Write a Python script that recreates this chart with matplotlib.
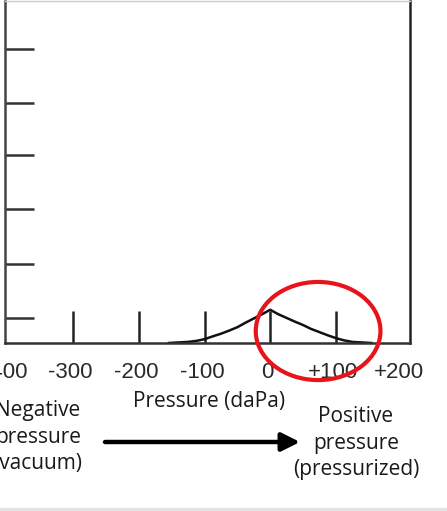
import matplotlib
matplotlib.use("Agg")
import matplotlib.pyplot as plt
from matplotlib.patches import Ellipse, Rectangle

# tympanogram trace (pressure in daPa, compliance in arbitrary units)
pressure = [-155, -140, -125, -112, -100, -88, -75, -62, -50, -38, -25, -12, 0,
            12, 25, 38, 50, 62, 75, 88, 100, 112, 125, 140, 155]
compliance = [0.0, 0.01, 0.02, 0.04, 0.07, 0.12, 0.17, 0.23, 0.29, 0.37, 0.45, 0.53, 0.61,
              0.53, 0.46, 0.39, 0.33, 0.26, 0.20, 0.14, 0.09, 0.05, 0.02, 0.01, 0.0]

label_pos = [-400, -300, -200, -100, 0, 100, 200]
label_txt = ["-400", "-300", "-200", "-100", "0", "+100", "+200"]
xtick_marks = [-300, -200, -100, 0, 100]
ytick_marks = [0.46, 1.45, 2.46, 3.45, 4.4, 5.4]

W, H = 447, 511
fig = plt.figure(figsize=(W / 100, H / 100), dpi=100)
ax = fig.add_axes([5 / W, 1 - 343 / H, 405 / W, 342 / H])

ax.plot(pressure, compliance, color="#111111", lw=1.8, solid_capstyle="round")
ax.set_xlim(-390, 213)
ax.set_ylim(0, 342 / 54.5)

ax.xaxis.remove_overlapping_locs = False
ax.set_xticks([p - 4 for p in label_pos])
ax.set_xticklabels(label_txt, family="Liberation Sans", fontsize=16, color="#2a2a2a")
ax.tick_params(axis="x", which="major", length=0, pad=14)
ax.set_xticks(xtick_marks, minor=True)
ax.tick_params(axis="x", which="minor", direction="in", length=23, width=1.8, color="#222222")
ax.set_yticks(ytick_marks)
ax.set_yticklabels([])
ax.tick_params(axis="y", direction="in", length=21, width=1.8, color="#333333")

for s in ["left", "bottom", "right"]:
    ax.spines[s].set_linewidth(1.8)
ax.spines["left"].set_color("#444444")
ax.spines["bottom"].set_color("#333333")
ax.spines["right"].set_color("#222222")
ax.spines["top"].set_color("#cccccc")
ax.spines["top"].set_linewidth(1)

# red highlight around the positive side
ax.add_patch(Ellipse((73, 0.22), 190, 1.8, fill=False, edgecolor="#e8141b",
                     lw=3, clip_on=False, zorder=5))

fig.text(209 / W, 1 - 402 / H, "Pressure (daPa)", family="Open Sans",
         fontsize=15, color="#1a1a1a", ha="center", va="center")
fig.text(38 / W, 1 - 437 / H, "Negative\npressure\n(vacuum)", family="Open Sans",
         fontsize=15, color="#1a1a1a", ha="center", va="center", linespacing=1.35)
fig.text(356 / W, 1 - 443 / H, "Positive\npressure\n(pressurized)", family="Open Sans",
         fontsize=15, color="#1a1a1a", ha="center", va="center", linespacing=1.35)

fig.patches.append(Rectangle((0, 0), 1, 3 / H, transform=fig.transFigure,
                             color="#e4e4e4", zorder=0))

ax.annotate("", xy=(300, H - 442), xytext=(105, H - 442),
            xycoords="figure pixels", textcoords="figure pixels",
            arrowprops=dict(arrowstyle="-|>,head_length=1.1,head_width=0.55",
                            color="black", lw=3.2, shrinkA=0, shrinkB=0))

fig.savefig("out.png", dpi=100)
